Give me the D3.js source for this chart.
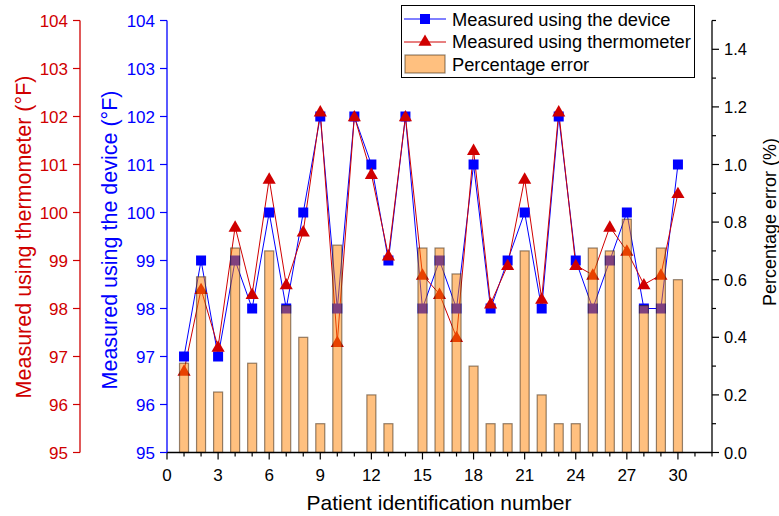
<!DOCTYPE html>
<html>
<head>
<meta charset="utf-8">
<script src="https://cdn.jsdelivr.net/npm/d3@7"></script>
<style>
body { margin: 0; background: #fff; }
text { font-family: "Liberation Sans", Arial, sans-serif; }
</style>
</head>
<body>
<div id="chart"></div>
<script>
var patients = [1,2,3,4,5,6,7,8,9,10,11,12,13,14,15,16,17,18,19,20,21,22,23,24,25,26,27,28,29,30];
var device = [97,99,97,99,98,100,98,100,102,98,102,101,99,102,98,99,98,101,98,99,100,98,102,99,98,99,100,98,98,101];
var thermometer = [96.7,98.4,97.2,99.7,98.3,100.7,98.5,99.6,102.1,97.3,102,100.8,99.1,102,98.7,98.3,97.4,101.3,98.1,98.9,100.7,98.2,102.1,98.9,98.7,99.7,99.2,98.5,98.7,100.4];
var pctError = [0.31,0.61,0.21,0.71,0.31,0.70,0.51,0.40,0.10,0.72,0,0.20,0.10,0,0.71,0.71,0.62,0.30,0.10,0.10,0.70,0.20,0.10,0.10,0.71,0.70,0.81,0.51,0.71,0.60];
var xTicks = [0,3,6,9,12,15,18,21,24,27,30];
var tempTicks = [95,96,97,98,99,100,101,102,103,104];
var pctTicks = [0,0.2,0.4,0.6,0.8,1.0,1.2,1.4];

var W = 779, H = 516;
var red = '#d00000', blue = '#0000ff';

var svg = d3.select('#chart').append('svg')
	.attr('width', W)
	.attr('height', H);

var x = d3.scaleLinear().domain([0, 32]).range([167, 712]);
var yT = d3.scaleLinear().domain([95, 104]).range([452.5, 20.5]);
var yP = d3.scaleLinear().domain([0, 1.5]).range([452.5, 20.5]);

// lines + markers
var lineDev = d3.line().x(function(d, i) { return x(patients[i]); }).y(function(d) { return yT(d); });
svg.append('path').datum(device)
	.attr('d', lineDev)
	.attr('fill', 'none')
	.attr('stroke', blue)
	.attr('stroke-width', 1);
svg.append('path').datum(thermometer)
	.attr('d', lineDev)
	.attr('fill', 'none')
	.attr('stroke', red)
	.attr('stroke-width', 1);

svg.selectAll('.sq').data(device).enter().append('rect')
	.attr('class', 'sq')
	.attr('x', function(d, i) { return x(patients[i]) - 5; })
	.attr('y', function(d) { return yT(d) - 5; })
	.attr('width', 10)
	.attr('height', 10)
	.attr('fill', blue);

var tri = d3.symbol().type(d3.symbolTriangle).size(75);
svg.selectAll('.tri').data(thermometer).enter().append('path')
	.attr('class', 'tri')
	.attr('d', tri)
	.attr('transform', function(d, i) { return 'translate(' + x(patients[i]) + ',' + (yT(d) + 1) + ')'; })
	.attr('fill', red);

// bars (semi transparent, on top)
svg.selectAll('.bar').data(pctError).enter().append('rect')
	.attr('class', 'bar')
	.attr('x', function(d, i) { return x(patients[i]) - 4.5; })
	.attr('y', function(d) { return yP(d); })
	.attr('width', 9)
	.attr('height', function(d) { return yP(0) - yP(d); })
	.attr('fill', 'rgba(255,130,0,0.5)')
	.attr('stroke', 'rgba(60,40,20,0.55)')
	.attr('stroke-width', 1.2)
	.style('display', function(d) { return d > 0 ? null : 'none'; });

// bottom axis
var gx = svg.append('g').attr('transform', 'translate(0,' + yT(95) + ')');
gx.append('line').attr('x1', x(0)).attr('x2', x(32)).attr('stroke', '#000').attr('stroke-width', 1.3);
gx.selectAll('.mt').data(d3.range(0, 33)).enter().append('line')
	.attr('x1', function(d) { return x(d); })
	.attr('x2', function(d) { return x(d); })
	.attr('y2', function(d) { return d % 3 === 0 ? 7 : 4; })
	.attr('stroke', '#000').attr('stroke-width', 1.2);
gx.selectAll('.xl').data(xTicks).enter().append('text')
	.attr('x', function(d) { return x(d); })
	.attr('y', 28)
	.attr('text-anchor', 'middle')
	.style('font-size', '17px')
	.text(function(d) { return d; });
svg.append('text')
	.attr('x', 439).attr('y', 510)
	.attr('text-anchor', 'middle')
	.style('font-size', '21px')
	.text('Patient identification number');

// left axes
function leftAxis(ax, color, title, tx, ty) {
	var g = svg.append('g');
	g.append('line').attr('x1', ax).attr('x2', ax).attr('y1', yT(104)).attr('y2', yT(95))
		.attr('stroke', color).attr('stroke-width', 1.3);
	g.selectAll('.t').data(tempTicks).enter().append('line')
		.attr('x1', ax - 7).attr('x2', ax)
		.attr('y1', function(d) { return yT(d); })
		.attr('y2', function(d) { return yT(d); })
		.attr('stroke', color).attr('stroke-width', 1.2);
	g.selectAll('.l').data(tempTicks).enter().append('text')
		.attr('x', ax - 12)
		.attr('y', function(d) { return yT(d) + 6; })
		.attr('text-anchor', 'end')
		.attr('fill', color)
		.style('font-size', '17px')
		.text(function(d) { return d; });
	g.append('text')
		.attr('transform', 'translate(' + tx + ',' + ty + ') rotate(-90)')
		.attr('text-anchor', 'middle')
		.attr('fill', color)
		.style('font-size', '21.5px')
		.text(title);
}
leftAxis(80, red, 'Measured using thermometer (°F)', 31, 237);
leftAxis(167, blue, 'Measured using the device (°F)', 117, 240);

// right axis
var gr = svg.append('g');
gr.append('line').attr('x1', 712).attr('x2', 712).attr('y1', yP(1.5)).attr('y2', yP(0))
	.attr('stroke', '#000').attr('stroke-width', 1.3);
gr.selectAll('.t').data(d3.range(0, 16)).enter().append('line')
	.attr('x1', 712)
	.attr('x2', function(d) { return d % 2 === 0 ? 719 : 716; })
	.attr('y1', function(d) { return yP(d / 10); })
	.attr('y2', function(d) { return yP(d / 10); })
	.attr('stroke', '#000').attr('stroke-width', 1.2);
gr.selectAll('.l').data(pctTicks).enter().append('text')
	.attr('x', 724)
	.attr('y', function(d) { return yP(d) + 6; })
	.style('font-size', '16.5px')
	.text(function(d) { return d.toFixed(1); });
svg.append('text')
	.attr('transform', 'translate(776,222) rotate(-90)')
	.attr('text-anchor', 'middle')
	.style('font-size', '18px')
	.text('Percentage error (%)');

// legend
var lg = svg.append('g');
lg.append('rect').attr('x', 401.5).attr('y', 5.5).attr('width', 293).attr('height', 72)
	.attr('fill', '#fff').attr('stroke', '#000').attr('stroke-width', 1);
lg.append('line').attr('x1', 404).attr('x2', 446).attr('y1', 19).attr('y2', 19).attr('stroke', blue);
lg.append('rect').attr('x', 420).attr('y', 14).attr('width', 10).attr('height', 10).attr('fill', blue);
lg.append('line').attr('x1', 404).attr('x2', 446).attr('y1', 42).attr('y2', 42).attr('stroke', red);
lg.append('path').attr('d', tri).attr('transform', 'translate(425,42)').attr('fill', red);
lg.append('rect').attr('x', 405).attr('y', 55).attr('width', 40).attr('height', 18)
	.attr('fill', 'rgba(255,130,0,0.5)').attr('stroke', 'rgba(60,40,20,0.55)').attr('stroke-width', 1.2);
var legendText = ['Measured using the device', 'Measured using thermometer', 'Percentage error'];
lg.selectAll('.lt').data(legendText).enter().append('text')
	.attr('x', 452)
	.attr('y', function(d, i) { return 26 + i * 22.3; })
	.style('font-size', '18.3px')
	.text(function(d) { return d; });
</script>
</body>
</html>
